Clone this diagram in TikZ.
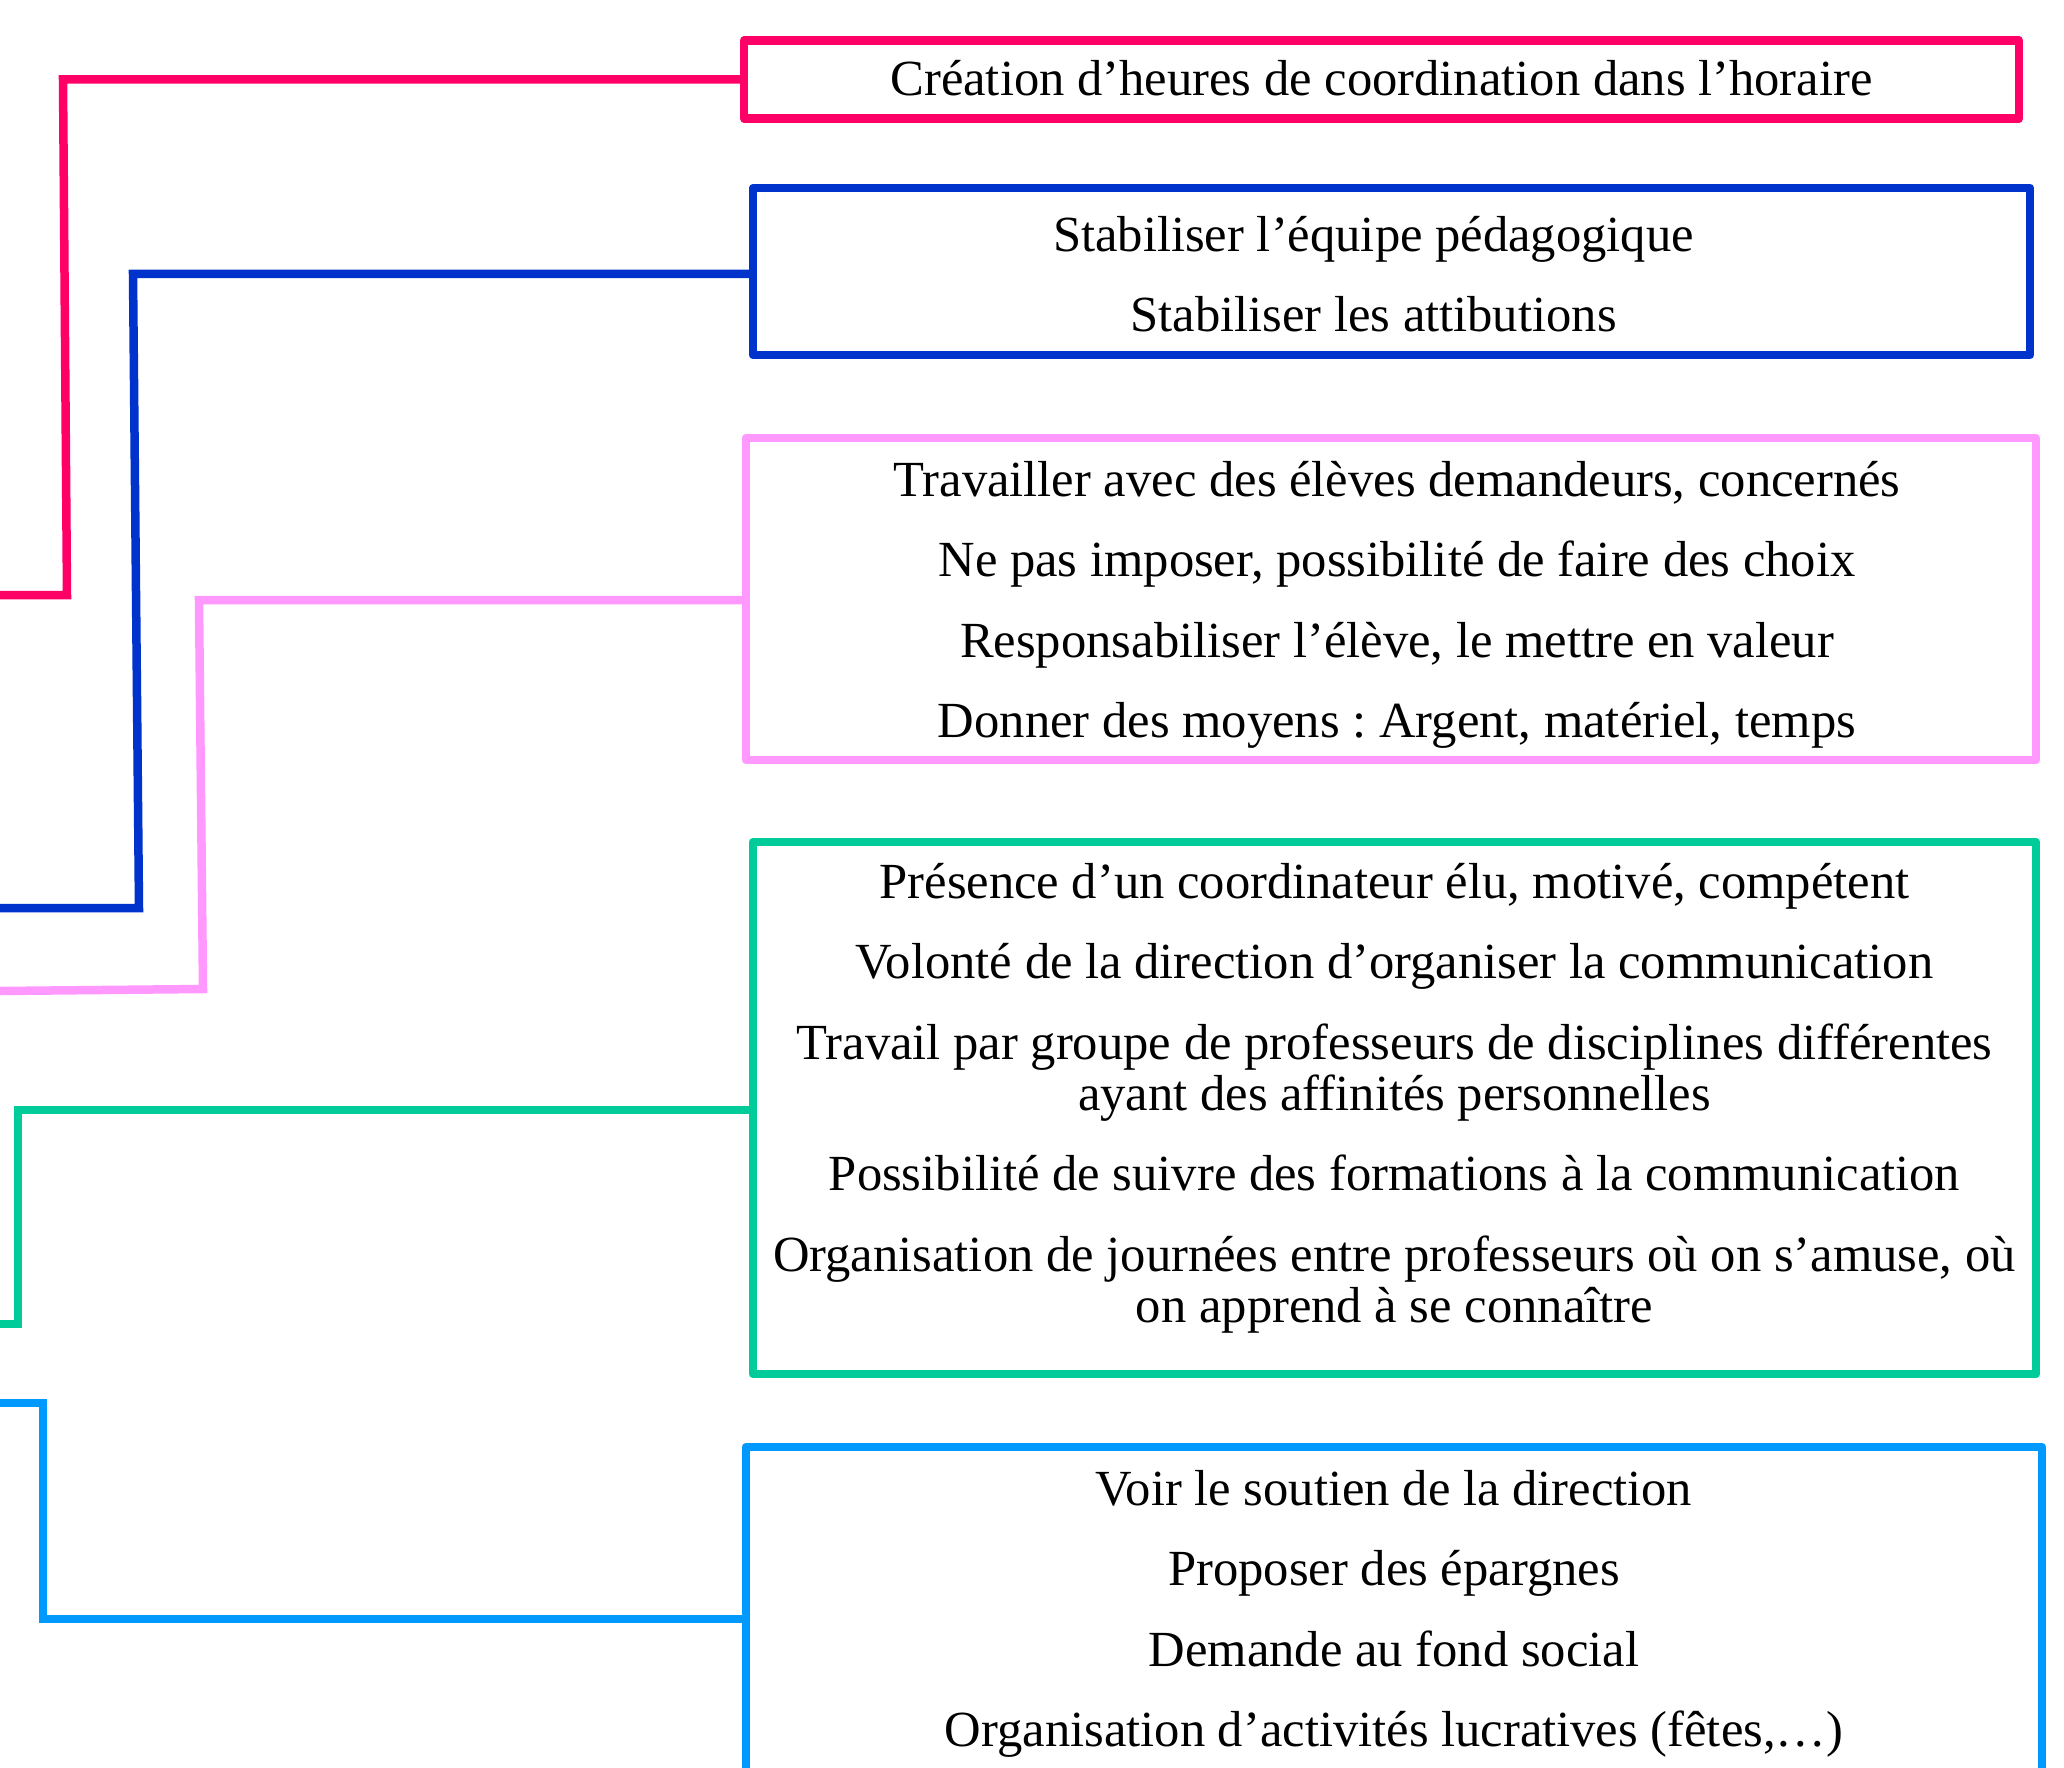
\documentclass[tikz,border=0pt]{standalone}
\usepackage{fontspec}
\setmainfont{Liberation Serif}
\definecolor{cred}{HTML}{FF0066}
\definecolor{cblue}{HTML}{0033CC}
\definecolor{cpink}{HTML}{FF99FF}
\definecolor{cgreen}{HTML}{00CC99}
\definecolor{clight}{HTML}{0099FF}
\tikzset{
  box/.style={draw, line width=8.5pt, line join=round, rectangle, inner sep=0pt},
  txt/.style={inner sep=0pt, align=center, text=black,
    font=\frenchspacing\fontsize{50.6}{51}\selectfont},
  link/.style={line width=8.5pt}
}
\begin{document}
\begin{tikzpicture}[x=1pt,y=-1pt]
\useasboundingbox (0,0) rectangle (2064,1768);
\clip (0,0) rectangle (2064,1768);

\node[box, cred, minimum width=1275pt, minimum height=78pt] (b1) at (1381.5,79.5) {};
\node[txt] (t1) at (1381.5,78)
  {Création d’heures de coordination dans l’horaire};

\node[box, cblue, minimum width=1277pt, minimum height=167pt] (b2) at (1391.5,271.5) {};
\node[txt] (t2) at (1373.5,274)
  {Stabiliser l’équipe pédagogique\\[29.5pt]Stabiliser les attibutions};

\node[box, cpink, minimum width=1290pt, minimum height=322pt] (b3) at (1391,599) {};
\node[txt] (t3) at (1397,605)
  {Travailler avec des élèves demandeurs, concernés\\[29.5pt]
   Ne pas imposer, possibilité de faire des choix\\[29.5pt]
   Responsabiliser l’élève, le mettre en valeur\\[29.5pt]
   Donner des moyens : Argent, matériel, temps};

\node[box, cgreen, minimum width=1283pt, minimum height=532pt] (b4) at (1394.5,1108) {};
\node[txt] (t4) at (1394.5,1098)
  {Présence d’un coordinateur élu, motivé, compétent\\[29.5pt]
   Volonté de la direction d’organiser la communication\\[29.5pt]
   Travail par groupe de professeurs de disciplines différentes\\
   ayant des affinités personnelles\\[29.5pt]
   Possibilité de suivre des formations à la communication\\[29.5pt]
   Organisation de journées entre professeurs où on s’amuse, où\\
   on apprend à se connaître};

\node[box, clight, minimum width=1296pt, minimum height=344pt] (b5) at (1394,1619) {};
\node[txt] (t5) at (1394,1614)
  {Voir le soutien de la direction\\[29.5pt]
   Proposer des épargnes\\[29.5pt]
   Demande au fond social\\[29.5pt]
   Organisation d’activités lucratives (fêtes,…)};

\coordinate (e1) at (0,595);
\coordinate (e2) at (0,908);
\coordinate (e3) at (0,991);
\coordinate (e4) at (0,1324);
\coordinate (e5) at (0,1403);

\draw[link, cred] (b1.west) -- (63,79.5) -- (67,595) -- (e1);
\draw[link, cblue] (b2.west |- 0,274) -- (133,274) -- (139,908) -- (e2);
\draw[link, cpink] (b3.west |- 0,600) -- (199,600) -- (203,989) -- (e3);
\draw[link, cgreen] (b4.west |- 0,1110) -- (18,1110) -- (18,1324) -- (e4);
\draw[link, clight] (b5.west) -- (43,1619) -- (43,1403) -- (e5);
\end{tikzpicture}
\end{document}
